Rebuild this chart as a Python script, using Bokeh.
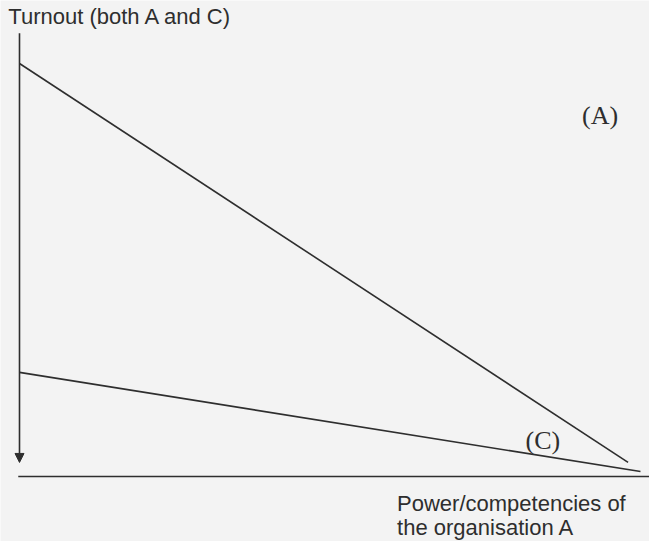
from bokeh.plotting import figure
from bokeh.models import Range1d, Arrow, NormalHead, Label
from bokeh.embed import file_html
from bokeh.resources import INLINE

# Conceptual data (power of organisation A vs turnout)
power_A = [0, 98]
turnout_A = [100, 3.4]
power_C = [0, 100]
turnout_C = [25.2, 1.2]

y_axis_top = 107.3
y_axis_tip = 3.4
x_axis_start = -0.2
x_axis_end = 103

title_text = "Turnout (both A and C)"
xlabel_lines = ["Power/competencies of", "the organisation A"]
label_A = "(A)"
label_C = "(C)"

BG = "#f3f3f3"
INK = "#2e2e2e"

p = figure(width=649, height=541, output_backend="svg", toolbar_location=None,
           x_range=Range1d(-3.06, 101.45), y_range=Range1d(-15.74, 115.25),
           min_border=0, min_border_left=0, min_border_right=0,
           min_border_top=0, min_border_bottom=0)
p.axis.visible = False
p.grid.visible = False
p.outline_line_color = None
p.background_fill_color = BG
p.border_fill_color = BG

# axes drawn as plain lines
p.line([x_axis_start, x_axis_end], [0, 0], line_color=INK, line_width=1.6)
p.add_layout(Arrow(x_start=0, y_start=y_axis_top, x_end=0, y_end=y_axis_tip,
                   line_color=INK, line_width=1.6,
                   end=NormalHead(size=9, fill_color=INK, line_color=INK)))

# the two curves
p.line(power_A, turnout_A, line_color=INK, line_width=1.6)
p.line(power_C, turnout_C, line_color=INK, line_width=1.6)

sans = "Liberation Sans, Arial, sans-serif"
serif = "Liberation Serif, Times New Roman, serif"

p.add_layout(Label(x=-1.8, y=111.4, text=title_text, text_font=sans,
                   text_font_size="22px", text_color=INK,
                   text_baseline="alphabetic", text_align="left"))
p.add_layout(Label(x=60.8, y=-6.5, text=xlabel_lines[0], text_font=sans,
                   text_font_size="22px", text_color=INK,
                   text_baseline="alphabetic", text_align="left"))
p.add_layout(Label(x=60.8, y=-12.4, text=xlabel_lines[1], text_font=sans,
                   text_font_size="22px", text_color=INK,
                   text_baseline="alphabetic", text_align="left"))
p.add_layout(Label(x=90.6, y=87.5, text=label_A, text_font=serif,
                   text_font_size="26px", text_color=INK,
                   text_baseline="alphabetic", text_align="left"))
p.add_layout(Label(x=81.5, y=8.6, text=label_C, text_font=serif,
                   text_font_size="26px", text_color=INK,
                   text_baseline="alphabetic", text_align="left"))

open("out.html", "w").write(file_html(p, INLINE))
